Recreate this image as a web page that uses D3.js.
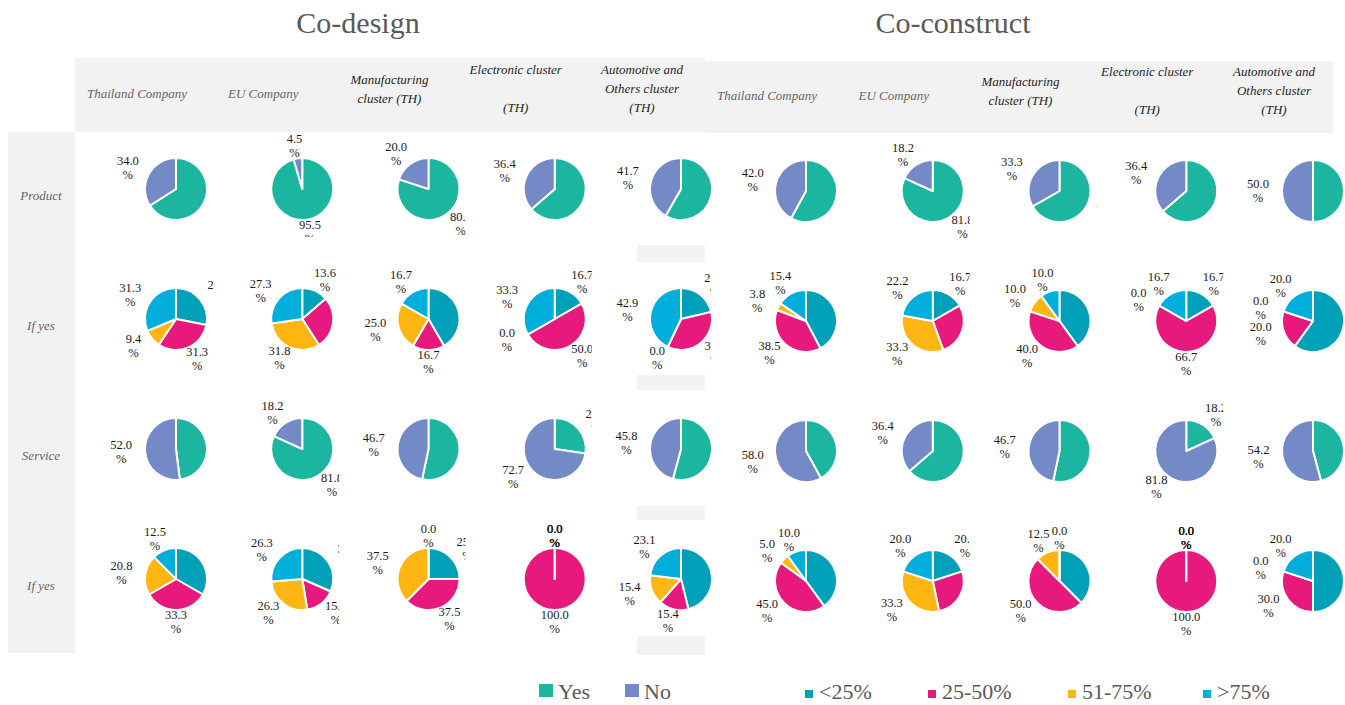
<!DOCTYPE html>
<html>
<head>
<meta charset="utf-8">
<script src="https://cdn.jsdelivr.net/npm/d3@7"></script>
<style>
  html, body { margin: 0; padding: 0; background: #fff; }
  svg { display: block; }
  text { font-family: "Liberation Serif", "Times New Roman", serif; }
</style>
</head>
<body>
<svg id="chart" width="1345" height="705"></svg>
<script>
// ---- Labels ----
const panelTitles = ["Co-design", "Co-construct"];
const columnLabels = [
  ["Thailand Company"],
  ["EU Company"],
  ["Manufacturing", "cluster (TH)"],
  ["Electronic cluster", "", "(TH)"],
  ["Automotive and", "Others cluster", "(TH)"]
];
const rowLabels = ["Product", "If yes", "Service", "If yes"];
const ynKeys = ["Yes", "No"];
const shareKeys = ["<25%", "25-50%", "51-75%", ">75%"];

// ---- Co-design (% of respondents, one entry per column) ----
const designProduct = [[66.0, 34.0], [95.5, 4.5], [80.0, 20.0], [63.6, 36.4], [58.3, 41.7]];
const designProductShare = [
  [28.1, 31.3, 9.4, 31.3], [13.6, 27.3, 31.8, 27.3], [41.7, 16.7, 25.0, 16.7],
  [16.7, 50.0, 0.0, 33.3], [21.4, 35.7, 0.0, 42.9]
];
const designService = [[48.0, 52.0], [81.8, 18.2], [53.3, 46.7], [27.3, 72.7], [54.2, 45.8]];
const designServiceShare = [
  [33.3, 33.3, 20.8, 12.5], [31.6, 15.8, 26.3, 26.3], [25.0, 37.5, 37.5, 0.0],
  [0.0, 100.0, 0.0, 0.0], [46.2, 15.4, 15.4, 23.1]
];

// ---- Co-construct ----
const constructProduct = [[58.0, 42.0], [81.8, 18.2], [66.7, 33.3], [63.6, 36.4], [50.0, 50.0]];
const constructProductShare = [
  [42.3, 38.5, 3.8, 15.4], [16.7, 27.8, 33.3, 22.2], [40.0, 40.0, 10.0, 10.0],
  [16.7, 66.7, 0.0, 16.7], [60.0, 20.0, 0.0, 20.0]
];
const constructService = [[42.0, 58.0], [63.6, 36.4], [53.3, 46.7], [18.2, 81.8], [45.8, 54.2]];
const constructServiceShare = [
  [40.0, 45.0, 5.0, 10.0], [20.0, 26.7, 33.3, 20.0], [37.5, 50.0, 12.5, 0.0],
  [0.0, 100.0, 0.0, 0.0], [50.0, 30.0, 0.0, 20.0]
];

// ---- Drawing ----
const svg = d3.select("#chart");
const R = 31;
const BG = "#f2f2f2";

const colorYN = d3.scaleOrdinal(ynKeys, ["#1cb5a0", "#738ac7"]);
const colorShare = d3.scaleOrdinal(shareKeys, ["#00a0b8", "#e8197c", "#ffb612", "#00aedb"]);
const pie = d3.pie().sort(null).value(d => d.value);
const arc = d3.arc().innerRadius(0).outerRadius(R);
const fmt = d3.format(".1f");

svg.append("rect").attr("width", 1345).attr("height", 705).attr("fill", "#fff");

// table backgrounds
svg.append("rect").attr("x", 8).attr("y", 132).attr("width", 67).attr("height", 521).attr("fill", BG);
svg.append("rect").attr("x", 75).attr("y", 58).attr("width", 630).attr("height", 74).attr("fill", BG);
svg.append("rect").attr("x", 705).attr("y", 61).attr("width", 628).attr("height", 72).attr("fill", BG);
[[245, 17], [375, 15], [506, 14], [636, 19]].forEach(([y, h]) => {
  svg.append("rect").attr("x", 637).attr("y", y).attr("width", 68).attr("height", h).attr("fill", BG);
});

// row labels
const rowY = d3.scalePoint(d3.range(rowLabels.length), [189, 579]);
svg.selectAll("text.rowlab").data(rowLabels).join("text")
  .attr("class", "rowlab")
  .attr("x", 41).attr("y", (d, i) => rowY(i) + 11)
  .attr("text-anchor", "middle")
  .attr("font-size", 13).attr("font-style", "italic").attr("fill", "#666")
  .text(d => d);

const panels = [
  {
    title: panelTitles[0], titleX: 358, headerMid: 89, dy: 0,
    cols: [176, 681], rightLimit: 711,
    rows: [designProduct, designProductShare, designService, designServiceShare]
  },
  {
    title: panelTitles[1], titleX: 953, headerMid: 91, dy: 2,
    cols: [806, 1313], rightLimit: 1344,
    rows: [constructProduct, constructProductShare, constructService, constructServiceShare]
  }
];

let clipId = 0;
panels.forEach(p => {
  svg.append("text")
    .attr("x", p.titleX).attr("y", 33)
    .attr("text-anchor", "middle")
    .attr("font-size", 30).attr("fill", "#595959")
    .text(p.title);

  const colX = d3.scalePoint(d3.range(columnLabels.length), p.cols);

  // column headers
  columnLabels.forEach((lines, ci) => {
    const n = lines.length;
    const t = svg.append("text")
      .attr("text-anchor", "middle")
      .attr("font-size", 13).attr("font-style", "italic")
      .attr("fill", ci < 2 ? "#666" : "#262626");
    lines.forEach((line, li) => {
      const cy = n === 1 ? p.headerMid + 5 : p.headerMid + (li - (n - 1) / 2) * 19;
      t.append("tspan").attr("x", colX(ci) - 39).attr("y", cy + 4).text(line);
    });
  });

  // pies
  p.rows.forEach((rowData, ri) => {
    const keys = ri % 2 === 0 ? ynKeys : shareKeys;
    const color = ri % 2 === 0 ? colorYN : colorShare;
    const cy = rowY(ri) + p.dy;
    const top = -58;
    const bottom = ri === 0 ? 48 : 57;

    rowData.forEach((vals, ci) => {
      const cx = colX(ci);
      const left = -75;
      const right = Math.min(37, p.rightLimit - cx);
      const id = "cell" + (clipId++);
      svg.append("clipPath").attr("id", id)
        .append("rect").attr("x", left).attr("y", top)
        .attr("width", right - left).attr("height", bottom - top);

      const g = svg.append("g")
        .attr("transform", `translate(${cx},${cy})`)
        .attr("clip-path", `url(#${id})`);

      const slices = pie(keys.map((k, i) => ({ key: k, value: vals[i] })));

      g.selectAll("path").data(slices).join("path")
        .attr("d", arc)
        .attr("fill", d => color(d.data.key))
        .attr("stroke", "#fff").attr("stroke-width", 2).attr("stroke-linejoin", "round");

      const lab = g.selectAll("text").data(slices).join("text")
        .attr("text-anchor", "middle")
        .attr("font-size", 12.5).attr("fill", "#1a1a1a");
      lab.each(function (d) {
        const a = (d.startAngle + d.endAngle) / 2;
        const lx = Math.sin(a) * (R + 24);
        const ly = -Math.cos(a) * (R + 12);
        const t = d3.select(this);
        t.append("tspan").attr("x", lx).attr("y", ly - 3).text(fmt(d.data.value));
        t.append("tspan").attr("x", lx).attr("y", ly + 11).text("%");
        // labels that fall entirely outside the cell are not shown
        const b = this.getBBox();
        if (b.x >= right || b.x + b.width <= left || b.y >= bottom || b.y + b.height <= top) {
          t.remove();
        }
      });
    });
  });
});

// legends
const legYN = svg.append("g");
ynKeys.forEach((k, i) => {
  const x = [539, 625][i];
  legYN.append("rect").attr("x", x).attr("y", 684).attr("width", 14).attr("height", 13).attr("fill", colorYN(k));
  legYN.append("text").attr("x", x + 19).attr("y", 699).attr("font-size", 22).attr("fill", "#595959").text(k);
});
const legShare = svg.append("g");
shareKeys.forEach((k, i) => {
  const x = [805, 928, 1068, 1203][i];
  legShare.append("rect").attr("x", x).attr("y", 690).attr("width", 8).attr("height", 8).attr("fill", colorShare(k));
  legShare.append("text").attr("x", x + 14).attr("y", 699).attr("font-size", 22).attr("fill", "#595959").text(k);
});
</script>
</body>
</html>
